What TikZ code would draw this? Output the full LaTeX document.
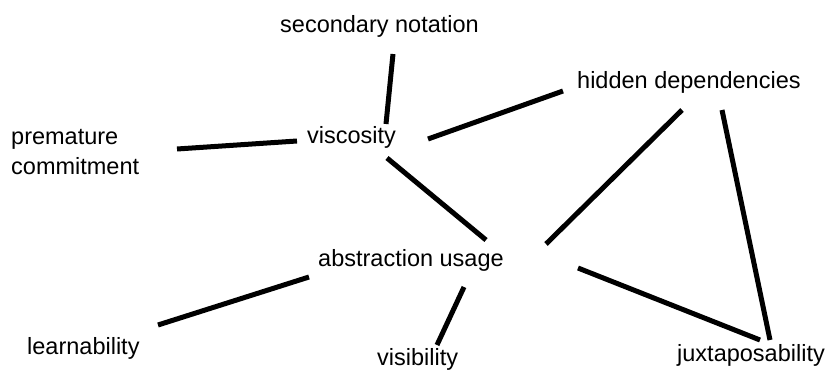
\documentclass[tikz,border=0pt]{standalone}
\usepackage{fontspec}
\setmainfont{Liberation Sans}
\begin{document}
\begin{tikzpicture}[x=1pt,y=-1pt,
  lbl/.style={inner sep=0pt,anchor=base west,font=\fontsize{23.5}{30}\selectfont},
  edge/.style={line width=5pt,black}]
\useasboundingbox (0,0) rectangle (827,372);
\node[lbl] (sec) at (280,32) {secondary notation};
\node[lbl] (hid) at (577,88) {hidden dependencies};
\node[lbl] (visc) at (307,143) {viscosity};
\node[lbl,anchor=north west,align=left] (prem) at (11,129) {premature\\commitment};
\node[lbl] (abs) at (318,266) {abstraction usage};
\node[lbl] (learn) at (27,354) {learnability};
\node[lbl] (vis) at (377,365) {visibility};
\node[lbl] (jux) at (677,361) {juxtaposability};
\draw[edge] ([shift={(113,22)}]sec.base west) -- ([shift={(79,-19)}]visc.base west);
\draw[edge] ([shift={(166,20)}]prem.north west) -- ([shift={(-10,-2)}]visc.base west);
\draw[edge] ([shift={(121,-4)}]visc.base west) -- ([shift={(-14,3)}]hid.base west);
\draw[edge] ([shift={(80,15)}]visc.base west) -- ([shift={(168,-26)}]abs.base west);
\draw[edge] ([shift={(228,-22)}]abs.base west) -- ([shift={(105,22)}]hid.base west);
\draw[edge] ([shift={(145,22)}]hid.base west) -- ([shift={(93,-21)}]jux.base west);
\draw[edge] ([shift={(260,2)}]abs.base west) -- ([shift={(83,-21)}]jux.base west);
\draw[edge] ([shift={(-9,11)}]abs.base west) -- ([shift={(131,-29)}]learn.base west);
\draw[edge] ([shift={(146,21)}]abs.base west) -- ([shift={(60,-20)}]vis.base west);
\end{tikzpicture}
\end{document}
